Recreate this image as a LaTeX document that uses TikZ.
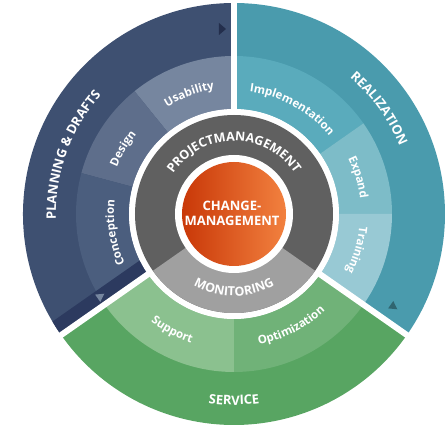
\documentclass[tikz,border=0pt]{standalone}
\usepackage{fontspec}
\setmainfont{Open Sans}
\usetikzlibrary{decorations.text}

\definecolor{planouter}{HTML}{3E5071}
\definecolor{usability}{HTML}{76869F}
\definecolor{design}{HTML}{5E6E8B}
\definecolor{conception}{HTML}{4B5E7E}
\definecolor{planband}{HTML}{2C3A5F}
\definecolor{realouter}{HTML}{4A9BAD}
\definecolor{implement}{HTML}{5AABBC}
\definecolor{expand}{HTML}{7DBCC8}
\definecolor{training}{HTML}{98C9D4}
\definecolor{servouter}{HTML}{58A562}
\definecolor{support}{HTML}{8BC18F}
\definecolor{optimize}{HTML}{70B278}
\definecolor{projgray}{HTML}{606060}
\definecolor{monigray}{HTML}{A0A0A0}
\definecolor{coreleft}{HTML}{C93808}
\definecolor{coreright}{HTML}{F2813F}

% annular sector: colour, from, to, inner, outer
\newcommand\ringseg[5]{%
  \fill[#1] (#2:#4) arc[start angle=#2,end angle=#3,radius=#4]
    -- (#3:#5) arc[start angle=#3,end angle=#2,radius=#5] -- cycle;}
% text on an arc, tops outward (clockwise) / tops inward (counter-clockwise)
\newcommand\ringcw[4]{%
  \path[decorate,decoration={text along path,text align=center,text={|#3|#4}}]
    (#1+85:#2) arc[start angle=#1+85,end angle=#1-85,radius=#2];}
\newcommand\ringccw[4]{%
  \path[decorate,decoration={text along path,text align=center,text={|#3|#4}}]
    (#1-85:#2) arc[start angle=#1-85,end angle=#1+85,radius=#2];}
\newcommand\bigtxt{\fontsize{13}{13}\selectfont\bfseries\color{white}}
\newcommand\midtxt{\fontsize{11.5}{12}\selectfont\bfseries\color{white}}
\newcommand\grytxt{\fontsize{12.5}{13}\selectfont\bfseries\color{white}}

\begin{document}
\begin{tikzpicture}[divider/.style={draw=white,line width=6pt},
  marker/.style={fill=#1}]
\useasboundingbox (-234pt,-214pt) rectangle (214pt,214pt);

% outer ring
\ringseg{planouter}{90}{215}{105pt}{211pt}
\ringseg{realouter}{-35}{90}{105pt}{211pt}
\ringseg{servouter}{215}{325}{105pt}{211pt}

% middle ring
\foreach \col/\a/\b in {usability/90/129, design/129/165, conception/165/215,
    implement/35/90, expand/0/35, training/-35/0,
    optimize/270/325, support/215/270}
  \ringseg{\col}{\a}{\b}{105pt}{158pt};

% dark band at the end of planning
\begin{scope}
  \clip (0,0) circle[radius=211pt];
  \fill[planband, rotate=215] (100pt,-16pt) rectangle (215pt,0pt);
\end{scope}

% dividers
\foreach \a in {90,-35,215}
  \draw[divider] (\a:100pt) -- (\a:216pt);

% project ring
\fill[white] (0,0) circle[radius=105pt];
\fill[projgray] (0,0) circle[radius=99pt];
\ringseg{monigray}{215}{325}{0pt}{99pt}
\fill[white] (0,0) circle[radius=59pt];
\shade[left color=coreleft, right color=coreright] (0,0) circle[radius=52pt];
\node[align=center, text=white, font=\fontsize{13}{15}\selectfont\bfseries] (core) at (-2pt,1pt) {CHANGE-\\MANAGEMENT};

% flow markers
\begin{scope}[shift={(-11.5pt,185pt)}]
  \fill[marker=planband!80!black] (-3.5pt,6pt) -- (3.5pt,0pt) -- (-3.5pt,-6pt) -- cycle;
\end{scope}
\begin{scope}[shift={(160pt,-93pt)}, rotate=-35]
  \fill[marker=realouter!65!black] (-4pt,4.5pt) -- (4pt,0pt) -- (-4pt,-4.5pt) -- cycle;
\end{scope}
\begin{scope}[shift={(-133pt,-82pt)}, rotate=35]
  \fill[marker=usability] (-4pt,4.5pt) -- (4pt,0pt) -- (-4pt,-4.5pt) -- cycle;
\end{scope}

% labels
\ringcw{160}{178pt}{\bigtxt}{PLANNING {\&} DRAFTS}
\ringcw{36}{179pt}{\bigtxt}{REALIZATION}
\ringccw{270}{191pt}{\bigtxt}{SERVICE}
\ringcw{110.5}{126pt}{\midtxt}{Usability}
\ringcw{149.5}{126pt}{\midtxt}{Design}
\ringcw{189}{120pt}{\midtxt}{Conception}
\ringcw{61}{123pt}{\midtxt}{Implementation}
\ringcw{16.5}{127pt}{\midtxt}{Expand}
\ringcw{-16.5}{126pt}{\midtxt}{Training}
\ringccw{242}{136pt}{\midtxt}{Support}
\ringccw{297}{133pt}{\midtxt}{Optimization}
\ringcw{90}{73pt}{\grytxt}{PROJECTMANAGEMENT}
\ringccw{270}{82pt}{\grytxt}{MONITORING}
\end{tikzpicture}
\end{document}
